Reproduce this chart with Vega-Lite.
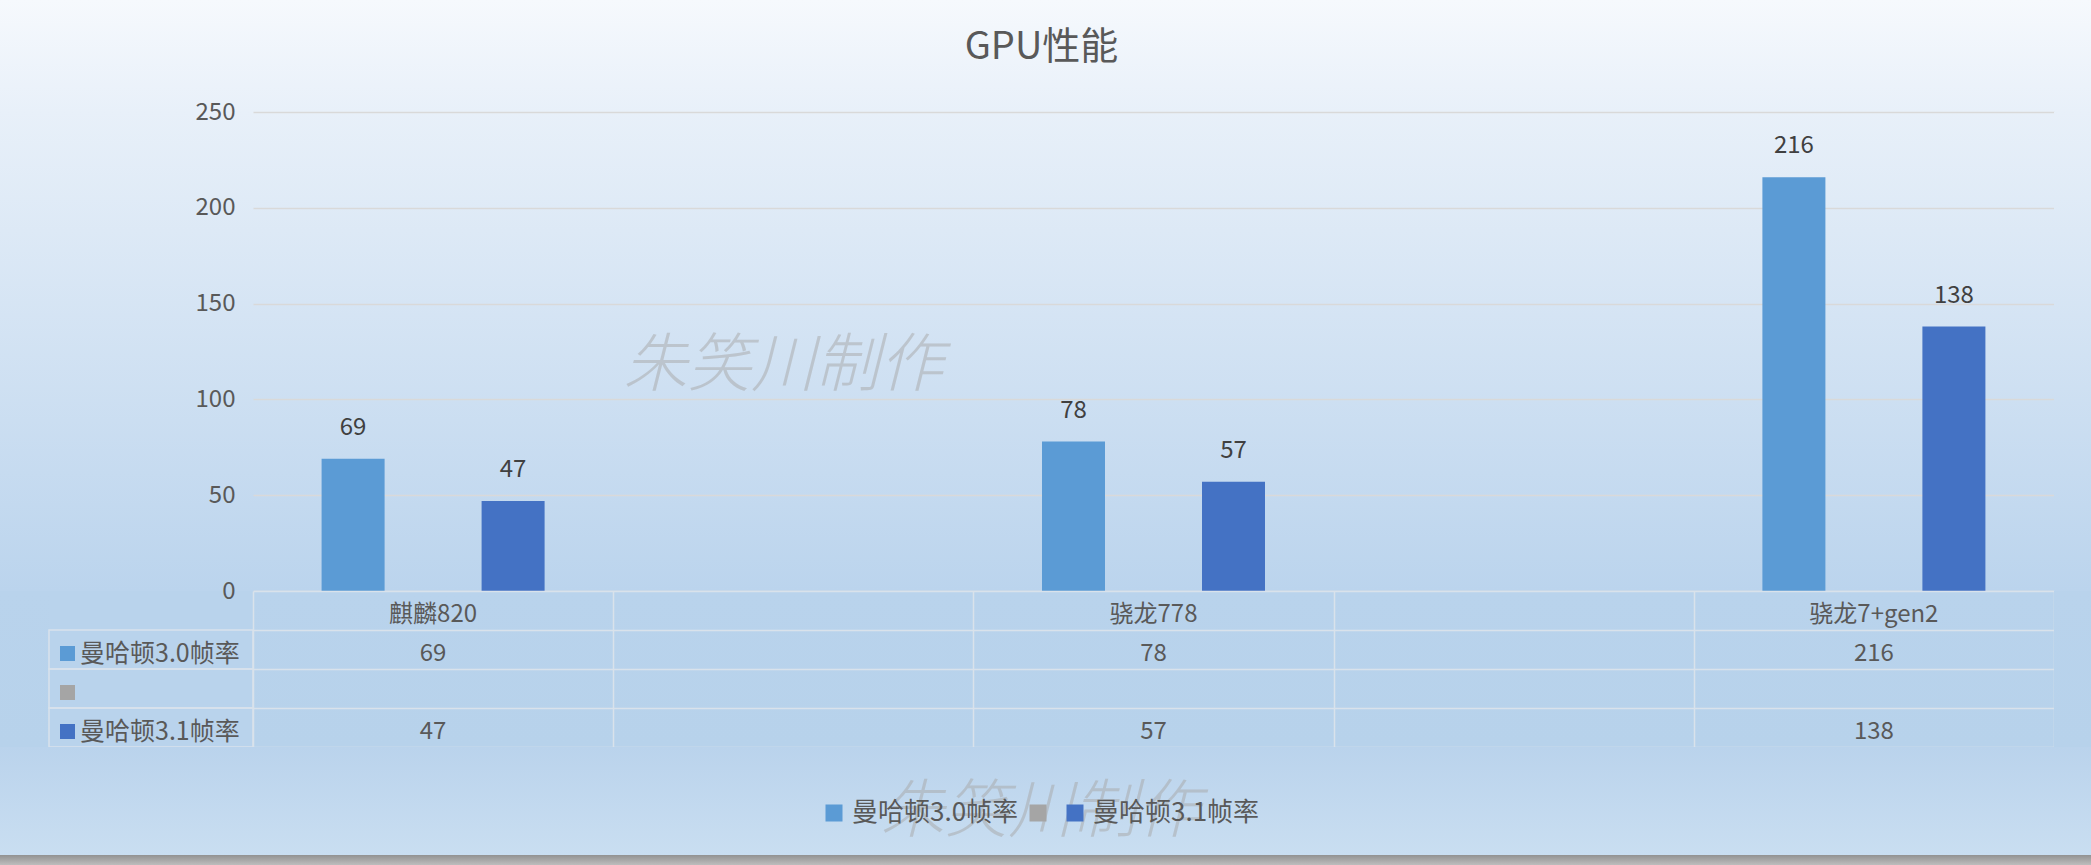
{
  "$schema": "https://vega.github.io/schema/vega-lite/v6.json",
  "background": "#b9d3ec",
  "padding": 0,
  "autosize": {"type": "pad"},
  "datasets": {
    "bars": [
      {"chip": "麒麟820", "series": "曼哈顿3.0帧率", "value": 69},
      {"chip": "麒麟820", "series": "曼哈顿3.1帧率", "value": 47},
      {"chip": "骁龙778", "series": "曼哈顿3.0帧率", "value": 78},
      {"chip": "骁龙778", "series": "曼哈顿3.1帧率", "value": 57},
      {"chip": "骁龙7+gen2", "series": "曼哈顿3.0帧率", "value": 216},
      {"chip": "骁龙7+gen2", "series": "曼哈顿3.1帧率", "value": 138}
    ],
    "series": [{"series": "曼哈顿3.0帧率"}, {"series": ""}, {"series": "曼哈顿3.1帧率"}]
  },
  "columns": 4,
  "spacing": 0,
  "bounds": "flush",
  "concat": [
    {"width": 49, "height": 112, "data": {"values": [{}]}, "mark": {"type": "text", "text": ""},
      "view": {"stroke": null, "fill": {"gradient": "linear", "x1": 0, "y1": 0, "x2": 0, "y2": 1, "stops": [{"offset": 0, "color": "#f6f9fd"}, {"offset": 1, "color": "#e8f0f9"}]}}},
    {"width": 204, "height": 112, "data": {"values": [{}]}, "mark": {"type": "text", "text": ""},
      "view": {"stroke": null, "fill": {"gradient": "linear", "x1": 0, "y1": 0, "x2": 0, "y2": 1, "stops": [{"offset": 0, "color": "#f6f9fd"}, {"offset": 1, "color": "#e8f0f9"}]}}},
    {"width": 1801, "height": 112, "data": {"values": [{}]},
      "mark": {"type": "text", "text": "GPU性能", "fontSize": 38, "color": "#595959", "dx": -112, "dy": -8},
      "view": {"stroke": null, "fill": {"gradient": "linear", "x1": 0, "y1": 0, "x2": 0, "y2": 1, "stops": [{"offset": 0, "color": "#f6f9fd"}, {"offset": 1, "color": "#e8f0f9"}]}}},
    {"width": 37, "height": 112, "data": {"values": [{}]}, "mark": {"type": "text", "text": ""},
      "view": {"stroke": null, "fill": {"gradient": "linear", "x1": 0, "y1": 0, "x2": 0, "y2": 1, "stops": [{"offset": 0, "color": "#f6f9fd"}, {"offset": 1, "color": "#e8f0f9"}]}}},

    {"width": 49, "height": 479, "data": {"values": [{}]}, "mark": {"type": "text", "text": ""},
      "view": {"stroke": null, "fill": {"gradient": "linear", "x1": 0, "y1": 0, "x2": 0, "y2": 1, "stops": [{"offset": 0, "color": "#e8f0f9"}, {"offset": 1, "color": "#bbd4ed"}]}}},
    {"width": 204, "height": 479, "data": {"values": [{}]}, "mark": {"type": "text", "text": ""},
      "view": {"stroke": null, "fill": {"gradient": "linear", "x1": 0, "y1": 0, "x2": 0, "y2": 1, "stops": [{"offset": 0, "color": "#e8f0f9"}, {"offset": 1, "color": "#bbd4ed"}]}}},
    {
      "width": 1801, "height": 479,
      "view": {"stroke": null, "fill": {"gradient": "linear", "x1": 0, "y1": 0, "x2": 0, "y2": 1, "stops": [{"offset": 0, "color": "#e8f0f9"}, {"offset": 1, "color": "#bbd4ed"}]}},
      "layer": [
        {
          "data": {"name": "bars"},
          "mark": {"type": "bar"},
          "encoding": {
            "x": {"field": "chip", "type": "nominal", "scale": {"domain": ["麒麟820", " ", "骁龙778", "  ", "骁龙7+gen2"], "paddingInner": 0.3337, "paddingOuter": 0.16685}, "axis": null},
            "xOffset": {"field": "series", "type": "nominal", "scale": {"domain": ["曼哈顿3.0帧率", "", "曼哈顿3.1帧率"], "paddingInner": 0.2125, "paddingOuter": 0.10625}},
            "y": {"field": "value", "type": "quantitative", "scale": {"domain": [0, 250], "nice": false},
              "axis": {"values": [0, 50, 100, 150, 200, 250], "grid": true, "gridColor": "#d9d9d9", "gridWidth": 1.3, "domain": false, "ticks": false, "labelPadding": 18, "labelFontSize": 24, "labelColor": "#595959", "title": null}},
            "color": {"field": "series", "type": "nominal", "scale": {"domain": ["曼哈顿3.0帧率", "", "曼哈顿3.1帧率"], "range": ["#5B9BD5", "#A5A5A5", "#4472C4"]},
              "legend": {"title": null, "orient": "none", "legendX": 821, "legendY": 800, "direction": "horizontal", "symbolType": "square", "symbolSize": 289, "symbolStrokeWidth": 0, "symbolOpacity": 1, "labelFontSize": 26, "labelColor": "#595959", "labelOffset": 5, "columnPadding": 6, "labelLimit": 400, "padding": 0}}
          }
        },
        {
          "data": {"name": "bars"},
          "mark": {"type": "text", "baseline": "alphabetic", "dy": -24, "fontSize": 24, "color": "#404040"},
          "encoding": {
            "x": {"field": "chip", "type": "nominal"},
            "xOffset": {"field": "series", "type": "nominal"},
            "y": {"field": "value", "type": "quantitative"},
            "text": {"field": "value", "type": "quantitative"}
          }
        },
        {
          "data": {"values": [{}]},
          "mark": {"type": "text", "text": "朱笑川制作", "fontSize": 64, "fontStyle": "italic", "fontWeight": 300, "color": "#a8a8a8", "opacity": 0.5, "dx": -10},
          "encoding": {
            "x": {"datum": " ", "type": "nominal"},
            "y": {"datum": 117, "type": "quantitative"}
          }
        }
      ]
    },
    {"width": 37, "height": 479, "data": {"values": [{}]}, "mark": {"type": "text", "text": ""},
      "view": {"stroke": null, "fill": {"gradient": "linear", "x1": 0, "y1": 0, "x2": 0, "y2": 1, "stops": [{"offset": 0, "color": "#e8f0f9"}, {"offset": 1, "color": "#bbd4ed"}]}}},

    {"width": 49, "height": 156, "data": {"values": [{}]}, "mark": {"type": "text", "text": ""},
      "view": {"stroke": null, "fill": {"gradient": "linear", "x1": 0, "y1": 0, "x2": 0, "y2": 1, "stops": [{"offset": 0, "color": "#b9d3ec"}, {"offset": 1, "color": "#b7d2eb"}]}}},
    {
      "width": 204, "height": 156,
      "data": {"name": "series"},
      "view": {"stroke": null, "fill": null},
      "encoding": {
        "y": {"field": "series", "type": "nominal", "scale": {"domain": ["hdr", "曼哈顿3.0帧率", "", "曼哈顿3.1帧率"], "paddingInner": 0, "paddingOuter": 0}, "axis": null}
      },
      "layer": [
        {"mark": {"type": "rect", "fill": "transparent", "stroke": "#d9e2eb", "strokeWidth": 1.5}},
        {"mark": {"type": "point", "shape": "square", "size": 225, "filled": true, "opacity": 1, "xOffset": -83.5, "yOffset": 4},
          "encoding": {"color": {"field": "series", "type": "nominal", "scale": {"domain": ["曼哈顿3.0帧率", "", "曼哈顿3.1帧率"], "range": ["#5B9BD5", "#A5A5A5", "#4472C4"]},
            "legend": {"title": null, "orient": "none", "legendX": 821, "legendY": 800, "direction": "horizontal", "symbolType": "square", "symbolSize": 289, "symbolStrokeWidth": 0, "symbolOpacity": 1, "labelFontSize": 26, "labelColor": "#595959", "labelOffset": 5, "columnPadding": 6, "labelLimit": 400, "padding": 0}}}},
        {"mark": {"type": "text", "align": "left", "dx": -71, "dy": 4, "fontSize": 25, "color": "#595959"},
          "encoding": {"text": {"field": "series", "type": "nominal"}}}
      ]
    },
    {
      "width": 1801, "height": 156,
      "view": {"stroke": null, "fill": {"gradient": "linear", "x1": 0, "y1": 0, "x2": 0, "y2": 1, "stops": [{"offset": 0, "color": "#b9d3ec"}, {"offset": 1, "color": "#b7d2eb"}]}},
      "layer": [
        {
          "data": {"name": "bars"},
          "transform": [{"aggregate": [{"op": "count", "as": "n"}], "groupby": ["chip"]}],
          "mark": {"type": "text", "fontSize": 24, "color": "#595959", "dy": 4},
          "encoding": {
            "x": {"field": "chip", "type": "nominal", "scale": {"domain": ["麒麟820", " ", "骁龙778", "  ", "骁龙7+gen2"], "paddingInner": 0, "paddingOuter": 0},
              "axis": {"grid": true, "tickBand": "extent", "gridColor": "#d9e2eb", "gridWidth": 1.5, "labels": false, "ticks": false, "domain": false, "title": null}},
            "y": {"datum": "hdr", "type": "nominal", "scale": {"domain": ["hdr", "曼哈顿3.0帧率", "", "曼哈顿3.1帧率"], "paddingInner": 0, "paddingOuter": 0},
              "axis": {"grid": true, "tickBand": "extent", "gridColor": "#d9e2eb", "gridWidth": 1.5, "labels": false, "ticks": false, "domain": false, "title": null}},
            "text": {"field": "chip", "type": "nominal"}
          }
        },
        {
          "data": {"name": "bars"},
          "mark": {"type": "text", "fontSize": 24, "color": "#595959", "dy": 4},
          "encoding": {
            "x": {"field": "chip", "type": "nominal"},
            "y": {"field": "series", "type": "nominal"},
            "text": {"field": "value", "type": "quantitative"}
          }
        }
      ]
    },
    {"width": 37, "height": 156, "data": {"values": [{}]}, "mark": {"type": "text", "text": ""},
      "view": {"stroke": null, "fill": {"gradient": "linear", "x1": 0, "y1": 0, "x2": 0, "y2": 1, "stops": [{"offset": 0, "color": "#b9d3ec"}, {"offset": 1, "color": "#b7d2eb"}]}}},

    {"width": 49, "height": 108, "data": {"values": [{}]}, "mark": {"type": "text", "text": ""},
      "view": {"stroke": null, "fill": {"gradient": "linear", "x1": 0, "y1": 0, "x2": 0, "y2": 1, "stops": [{"offset": 0, "color": "#bad3ec"}, {"offset": 1, "color": "#c9def1"}]}}},
    {"width": 204, "height": 108, "data": {"values": [{}]}, "mark": {"type": "text", "text": ""},
      "view": {"stroke": null, "fill": {"gradient": "linear", "x1": 0, "y1": 0, "x2": 0, "y2": 1, "stops": [{"offset": 0, "color": "#bad3ec"}, {"offset": 1, "color": "#c9def1"}]}}},
    {"width": 1801, "height": 108, "data": {"values": [{}]},
      "mark": {"type": "text", "text": "朱笑川制作", "fontSize": 64, "fontStyle": "italic", "fontWeight": 300, "color": "#a8a8a8", "opacity": 0.5, "dx": -113, "dy": 12},
      "view": {"stroke": null, "fill": {"gradient": "linear", "x1": 0, "y1": 0, "x2": 0, "y2": 1, "stops": [{"offset": 0, "color": "#bad3ec"}, {"offset": 1, "color": "#c9def1"}]}}},
    {"width": 37, "height": 108, "data": {"values": [{}]}, "mark": {"type": "text", "text": ""},
      "view": {"stroke": null, "fill": {"gradient": "linear", "x1": 0, "y1": 0, "x2": 0, "y2": 1, "stops": [{"offset": 0, "color": "#bad3ec"}, {"offset": 1, "color": "#c9def1"}]}}},

    {"width": 49, "height": 10, "data": {"values": [{}]}, "mark": {"type": "text", "text": ""},
      "view": {"stroke": null, "fill": {"gradient": "linear", "x1": 0, "y1": 0, "x2": 0, "y2": 1, "stops": [{"offset": 0, "color": "#929292"}, {"offset": 1, "color": "#bdbdbd"}]}}},
    {"width": 204, "height": 10, "data": {"values": [{}]}, "mark": {"type": "text", "text": ""},
      "view": {"stroke": null, "fill": {"gradient": "linear", "x1": 0, "y1": 0, "x2": 0, "y2": 1, "stops": [{"offset": 0, "color": "#929292"}, {"offset": 1, "color": "#bdbdbd"}]}}},
    {"width": 1801, "height": 10, "data": {"values": [{}]}, "mark": {"type": "text", "text": ""},
      "view": {"stroke": null, "fill": {"gradient": "linear", "x1": 0, "y1": 0, "x2": 0, "y2": 1, "stops": [{"offset": 0, "color": "#929292"}, {"offset": 1, "color": "#bdbdbd"}]}}},
    {"width": 37, "height": 10, "data": {"values": [{}]}, "mark": {"type": "text", "text": ""},
      "view": {"stroke": null, "fill": {"gradient": "linear", "x1": 0, "y1": 0, "x2": 0, "y2": 1, "stops": [{"offset": 0, "color": "#929292"}, {"offset": 1, "color": "#bdbdbd"}]}}}
  ],
  "config": {
    "font": "Noto Sans CJK SC",
    "view": {"stroke": null},
    "concat": {"spacing": 0}
  }
}
